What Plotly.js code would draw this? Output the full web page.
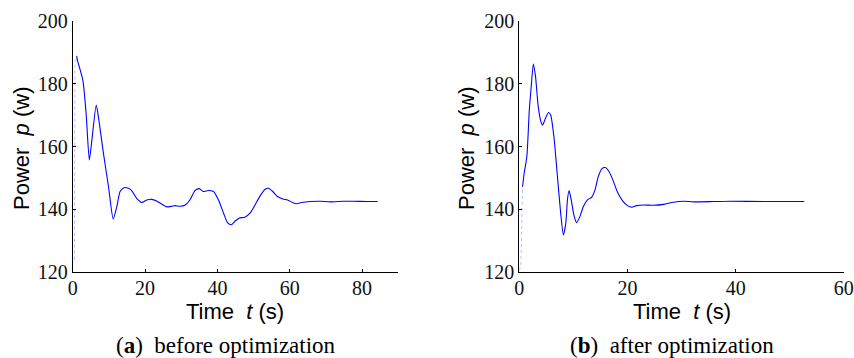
<!DOCTYPE html>
<html>
<head>
<meta charset="utf-8">
<script src="https://cdn.plot.ly/plotly-3.0.1.min.js"></script>
<style>html,body{margin:0;padding:0;background:#fff;}#chart{width:854px;height:358px;}</style>
</head>
<body>
<div id="chart"></div>
<script>
// (a) before optimization
const timeA = [1.1, 1.3, 2.8, 3.7, 4.6, 5.3, 6.5, 7.1, 8.5, 9.9, 11.2, 12.2, 13.1, 14.2, 15.4, 16.3, 17.7, 19.1, 20.5, 21.8, 23.2, 24.6, 26.0, 27.4, 28.3, 29.7, 31.1, 32.4, 33.8, 35.0, 36.1, 37.5, 38.9, 40.3, 41.7, 42.8, 43.8, 44.9, 46.1, 47.6, 49.0, 50.4, 51.8, 53.2, 54.1, 55.3, 56.6, 58.1, 59.4, 60.8, 61.9, 63.3, 65.6, 68.4, 71.2, 74.8, 77.6, 81.3, 84.3];
const powerA = [188.8, 187.5, 181.1, 170.6, 155.7, 162.0, 173.2, 169.5, 157.8, 147.2, 136.9, 140.9, 145.7, 146.9, 146.7, 146.0, 143.5, 142.2, 143.0, 143.2, 142.7, 141.7, 140.8, 141.0, 141.2, 141.0, 141.4, 143.0, 146.0, 146.6, 145.7, 146.0, 145.7, 143.0, 138.8, 135.8, 135.1, 136.3, 137.3, 137.5, 138.8, 141.4, 144.3, 146.4, 146.7, 145.7, 144.1, 143.3, 143.0, 142.2, 141.8, 142.2, 142.5, 142.6, 142.4, 142.6, 142.6, 142.5, 142.5];
// faint initial transient of (a)
const timeA0 = [0.5, 0.6, 1.1];
const powerA0 = [124, 186, 188.8];

// (b) after optimization
const timeB = [0.6, 0.9, 1.4, 1.85, 2.2, 2.6, 3.0, 3.5, 4.0, 4.3, 4.75, 5.4, 5.8, 6.4, 7.0, 7.65, 8.15, 8.6, 8.9, 9.2, 9.6, 10.1, 10.6, 11.2, 11.85, 12.6, 13.4, 14.0, 14.6, 15.25, 15.9, 16.5, 17.3, 18.1, 19.1, 20.0, 20.8, 21.7, 23.0, 24.8, 26.7, 28.5, 30.4, 32.2, 35.9, 39.0, 45.2, 52.7];
const powerB = [147.2, 151.5, 156.8, 171.6, 179.0, 186.2, 182.2, 172.7, 167.9, 166.8, 168.6, 170.8, 170.0, 163.1, 151.5, 138.8, 131.9, 135.6, 143.0, 146.0, 143.0, 138.2, 135.8, 137.7, 140.9, 143.0, 143.9, 146.2, 150.4, 152.9, 153.3, 152.3, 149.4, 145.7, 142.7, 141.2, 140.7, 141.2, 141.4, 141.3, 141.6, 142.3, 142.6, 142.4, 142.5, 142.6, 142.5, 142.5];
const timeB0 = [0.05, 0.3, 0.6];
const powerB0 = [120.5, 123, 147.2];

const xTicksA = [0, 20, 40, 60, 80];
const xTicksB = [0, 20, 40, 60];
const yTicks = [120, 140, 160, 180, 200];

const W = 854, H = 358;
const serif = "Liberation Serif, Times New Roman, serif";
const sans = "Liberation Sans, Arial, sans-serif";

function xdom(a, b) { return [a / W, b / W]; }
const yDom = [1 - 272.3 / H, 1 - 20.7 / H];

const axisCommon = {
  showgrid: false, zeroline: false, showline: true, linecolor: '#000', linewidth: 1,
  ticks: 'inside', ticklen: 3, tickcolor: '#000', tickwidth: 1,
  ticklabeloverflow: 'allow',
  tickfont: { family: serif, size: 20, color: '#111' }, mirror: false
};

const traces = [
  { x: timeA0, y: powerA0, xaxis: 'x', yaxis: 'y', mode: 'lines', line: { color: 'rgba(120,120,255,0.5)', width: 1, dash: 'dot' }, hoverinfo: 'skip' },
  { x: timeA, y: powerA, xaxis: 'x', yaxis: 'y', mode: 'lines', line: { color: '#0000ff', width: 1.1, shape: 'spline', smoothing: 0.6 } },
  { x: timeB0, y: powerB0, xaxis: 'x2', yaxis: 'y2', mode: 'lines', line: { color: 'rgba(120,120,255,0.5)', width: 1, dash: 'dot' }, hoverinfo: 'skip' },
  { x: timeB, y: powerB, xaxis: 'x2', yaxis: 'y2', mode: 'lines', line: { color: '#0000ff', width: 1.1, shape: 'spline', smoothing: 0.6 } }
];

const layout = {
  width: W, height: H, showlegend: false,
  margin: { l: 0, r: 0, t: 0, b: 0 },
  paper_bgcolor: '#fff', plot_bgcolor: '#fff',
  xaxis: Object.assign({}, axisCommon, { domain: xdom(72.7, 398.3), range: [0, 90], tickvals: xTicksA, anchor: 'y', ticklabelstandoff: -2 }),
  yaxis: Object.assign({}, axisCommon, { domain: yDom, range: [120, 200], tickvals: yTicks, anchor: 'x' }),
  xaxis2: Object.assign({}, axisCommon, { domain: xdom(519.3, 843.8), range: [0, 60], tickvals: xTicksB, anchor: 'y2', ticklabelstandoff: -2 }),
  yaxis2: Object.assign({}, axisCommon, { domain: yDom, range: [120, 200], tickvals: yTicks, anchor: 'x2' }),
  annotations: [
    { text: 'Time  <i>t</i> (s)', xref: 'paper', yref: 'paper', x: 235 / W, y: 1 - 311 / H, xanchor: 'center', yanchor: 'middle', showarrow: false, font: { family: sans, size: 22, color: '#000' } },
    { text: 'Time  <i>t</i> (s)', xref: 'paper', yref: 'paper', x: 682 / W, y: 1 - 311 / H, xanchor: 'center', yanchor: 'middle', showarrow: false, font: { family: sans, size: 22, color: '#000' } },
    { text: 'Power  <i>p</i> (w)', xref: 'paper', yref: 'paper', x: 21 / W, y: 1 - 148 / H, xanchor: 'center', yanchor: 'middle', textangle: -90, showarrow: false, font: { family: sans, size: 22, color: '#000' } },
    { text: 'Power  <i>p</i> (w)', xref: 'paper', yref: 'paper', x: 466 / W, y: 1 - 148 / H, xanchor: 'center', yanchor: 'middle', textangle: -90, showarrow: false, font: { family: sans, size: 22, color: '#000' } },
    { text: '(<b>a</b>)  before optimization', xref: 'paper', yref: 'paper', x: 226 / W, y: 1 - 345 / H, xanchor: 'center', yanchor: 'middle', showarrow: false, font: { family: serif, size: 23, color: '#000' } },
    { text: '(<b>b</b>)  after optimization', xref: 'paper', yref: 'paper', x: 672 / W, y: 1 - 345 / H, xanchor: 'center', yanchor: 'middle', showarrow: false, font: { family: serif, size: 23, color: '#000' } }
  ]
};

Plotly.newPlot('chart', traces, layout, { displayModeBar: false, staticPlot: true });
</script>
</body>
</html>
